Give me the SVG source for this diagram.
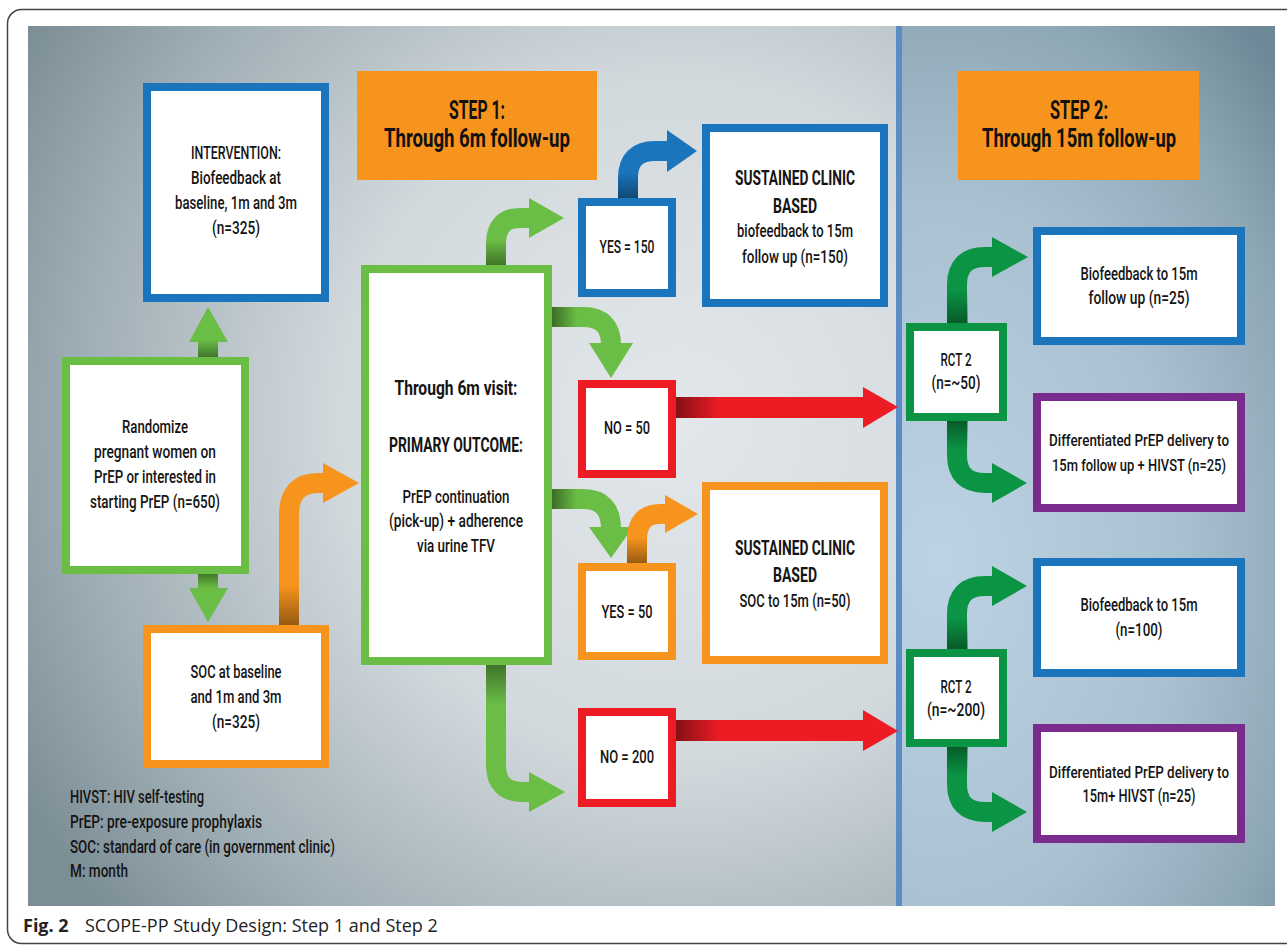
<svg xmlns="http://www.w3.org/2000/svg" width="1287" height="945" viewBox="0 0 1287 945">
<style>
.t{font-family:Roboto,"Liberation Sans",Arial,sans-serif;font-weight:500;font-size:18px;fill:#141414;text-anchor:middle}
.sm{font-size:16px}
.b{font-weight:bold;font-size:21px}
.s{font-weight:bold;font-size:25px;fill:#111}
.lg{font-family:Roboto,"Liberation Sans",Arial,sans-serif;font-weight:500;font-size:18px;fill:#141414}
.cap{font-family:"Open Sans","Noto Sans",sans-serif;font-size:18px;fill:#222}
.box{fill:#fff;stroke-width:8}
.blue{stroke:#1b75bc}.lgreen{stroke:#6abd45}.orange{stroke:#f7941d}.red{stroke:#ed1c24}.dgreen{stroke:#0b9444}.purple{stroke:#7b2b8e}
.step{fill:#f7941d}
.arr{fill:none;stroke-width:20}
</style>
<defs>
<radialGradient id="bgL" gradientUnits="userSpaceOnUse" cx="680" cy="420" r="760">
<stop offset="0" stop-color="#e3e7eb"/><stop offset="0.45" stop-color="#d2d9dd"/><stop offset="0.8" stop-color="#9eadb4"/><stop offset="1" stop-color="#7b8d95"/>
</radialGradient>
<radialGradient id="bgR" gradientUnits="userSpaceOnUse" cx="940" cy="560" r="470" gradientTransform="translate(940 560) scale(1 1.5) translate(-940 -560)">
<stop offset="0" stop-color="#bdd3e5"/><stop offset="0.5" stop-color="#aac1d1"/><stop offset="0.8" stop-color="#8ea7b5"/><stop offset="1" stop-color="#6d8896"/>
</radialGradient>
<linearGradient id="shUp" x1="0" y1="1" x2="0" y2="0"><stop offset="0" stop-color="#000" stop-opacity="0.4"/><stop offset="1" stop-color="#000" stop-opacity="0"/></linearGradient>
<linearGradient id="shDown" x1="0" y1="0" x2="0" y2="1"><stop offset="0" stop-color="#000" stop-opacity="0.4"/><stop offset="1" stop-color="#000" stop-opacity="0"/></linearGradient>
<linearGradient id="shRight" x1="0" y1="0" x2="1" y2="0"><stop offset="0" stop-color="#000" stop-opacity="0.45"/><stop offset="1" stop-color="#000" stop-opacity="0"/></linearGradient>
</defs>

<rect x="7.5" y="9.5" width="1300" height="934" rx="14" fill="#fff" stroke="#444" stroke-width="1.5"/>
<rect x="28" y="26" width="870" height="880" fill="url(#bgL)"/>
<rect x="898" y="26" width="377" height="880" fill="url(#bgR)"/>
<rect x="896" y="26" width="6" height="880" fill="#5d8cc4"/>

<g id="connectors">
<rect x="198" y="340" width="20" height="18" fill="#6abd45"/>
<polygon points="189,342 208,307 228,342" fill="#6abd45"/>
<rect x="198" y="340" width="20" height="18" fill="url(#shUp)"/>
<rect x="198" y="573" width="20" height="17" fill="#6abd45"/>
<polygon points="189,588 208,622 228,588" fill="#6abd45"/>
<rect x="198" y="573" width="20" height="15" fill="url(#shDown)"/>
<path class="arr" stroke="#f7941d" d="M289,626 V515 Q289,483 318,483 H325"/>
<polygon points="323,463 359,483 323,503" fill="#f7941d"/>
<rect x="279" y="585" width="20" height="41" fill="url(#shUp)"/>
<path class="arr" stroke="#6abd45" d="M496,266 V244 Q496,218 520,218 H531"/>
<polygon points="529,198 564,218 529,238" fill="#6abd45"/>
<rect x="486" y="240" width="20" height="26" fill="url(#shUp)"/>
<path class="arr" stroke="#1b75bc" d="M628,199 V178 Q628,151 655,151 H669"/>
<polygon points="667,130 697,151 667,172" fill="#1b75bc"/>
<rect x="618" y="172" width="20" height="27" fill="url(#shUp)"/>
<path class="arr" stroke="#6abd45" d="M551,317 H583 Q611,317 611,345"/>
<polygon points="589,343 611,378 633,343" fill="#6abd45"/>
<rect x="551" y="307" width="26" height="20" fill="url(#shRight)"/>
<path class="arr" stroke="#6abd45" d="M551,499 H583 Q611,499 611,529"/>
<polygon points="589,527 611,558 633,527" fill="#6abd45"/>
<rect x="551" y="489" width="26" height="20" fill="url(#shRight)"/>
<path class="arr" stroke="#f7941d" d="M637,564 V540 Q637,514 660,514 H667"/>
<polygon points="665,495 698,514 665,533" fill="#f7941d"/>
<rect x="627" y="538" width="20" height="26" fill="url(#shUp)"/>
<path class="arr" stroke="#6abd45" d="M496,664 V765 Q496,792 523,792 H531"/>
<polygon points="529,772 565,792 529,812" fill="#6abd45"/>
<rect x="486" y="664" width="20" height="40" fill="url(#shDown)"/>
<rect x="675" y="397" width="190" height="21" fill="#ed1c24"/>
<polygon points="863,387 898,407 863,428" fill="#ed1c24"/>
<rect x="675" y="397" width="45" height="21" fill="url(#shRight)"/>
<rect x="675" y="720" width="190" height="21" fill="#ed1c24"/>
<polygon points="863,710 898,731 863,751" fill="#ed1c24"/>
<rect x="675" y="720" width="45" height="21" fill="url(#shRight)"/>
<path class="arr" stroke="#0b9444" stroke-width="21" d="M957,324 V285 Q957,257 985,257 H994"/>
<polygon points="992,237 1028,257 992,277" fill="#0b9444"/>
<rect x="947" y="290" width="21" height="34" fill="url(#shUp)"/>
<path class="arr" stroke="#0b9444" stroke-width="21" d="M957,420 V455 Q957,483 985,483 H994"/>
<polygon points="992,463 1027,483 992,503" fill="#0b9444"/>
<rect x="947" y="420" width="21" height="30" fill="url(#shDown)"/>
<path class="arr" stroke="#0b9444" stroke-width="21" d="M957,650 V614 Q957,586 985,586 H994"/>
<polygon points="992,566 1027,586 992,606" fill="#0b9444"/>
<rect x="947" y="618" width="21" height="32" fill="url(#shUp)"/>
<path class="arr" stroke="#0b9444" stroke-width="21" d="M957,746 V784 Q957,812 985,812 H994"/>
<polygon points="992,792 1027,812 992,832" fill="#0b9444"/>
<rect x="947" y="746" width="21" height="30" fill="url(#shDown)"/>
</g>

<g id="intervention">
<rect class="box blue" x="147" y="87" width="178" height="211"/>
<text class="t" x="236" y="159" textLength="90" lengthAdjust="spacingAndGlyphs">INTERVENTION:</text>
<text class="t" x="236" y="184" textLength="90" lengthAdjust="spacingAndGlyphs">Biofeedback at</text>
<text class="t" x="236" y="209" textLength="122" lengthAdjust="spacingAndGlyphs">baseline, 1m and 3m</text>
<text class="t" x="236" y="234" textLength="48" lengthAdjust="spacingAndGlyphs">(n=325)</text>
</g>

<g id="step1">
<rect class="step" x="357" y="71" width="240" height="109"/>
<text class="t s" x="477" y="119" textLength="56" lengthAdjust="spacingAndGlyphs">STEP 1:</text>
<text class="t s" x="477" y="147" textLength="186" lengthAdjust="spacingAndGlyphs">Through 6m follow-up</text>
</g>

<g id="step2">
<rect class="step" x="958" y="71" width="241" height="109"/>
<text class="t s" x="1079" y="119" textLength="58" lengthAdjust="spacingAndGlyphs">STEP 2:</text>
<text class="t s" x="1079" y="147" textLength="194" lengthAdjust="spacingAndGlyphs">Through 15m follow-up</text>
</g>

<g id="randomize">
<rect class="box lgreen" x="66" y="361" width="179" height="209"/>
<text class="t" x="155" y="433" textLength="66" lengthAdjust="spacingAndGlyphs">Randomize</text>
<text class="t" x="155" y="458" textLength="122" lengthAdjust="spacingAndGlyphs">pregnant women on</text>
<text class="t" x="155" y="483" textLength="122" lengthAdjust="spacingAndGlyphs">PrEP or interested in</text>
<text class="t" x="155" y="508" textLength="130" lengthAdjust="spacingAndGlyphs">starting PrEP (n=650)</text>
</g>

<g id="soc">
<rect class="box orange" x="147" y="629" width="178" height="135"/>
<text class="t" x="236" y="678" textLength="91" lengthAdjust="spacingAndGlyphs">SOC at baseline</text>
<text class="t" x="236" y="703" textLength="91" lengthAdjust="spacingAndGlyphs">and 1m and 3m</text>
<text class="t" x="236" y="728" textLength="48" lengthAdjust="spacingAndGlyphs">(n=325)</text>
</g>

<g id="through6m">
<rect class="box lgreen" x="365" y="269" width="183" height="392"/>
<text class="t b" x="456" y="395" textLength="123" lengthAdjust="spacingAndGlyphs">Through 6m visit:</text>
<text class="t b" x="456" y="452" textLength="134" lengthAdjust="spacingAndGlyphs">PRIMARY OUTCOME:</text>
<text class="t" x="456" y="503" textLength="107" lengthAdjust="spacingAndGlyphs">PrEP continuation</text>
<text class="t" x="456" y="527" textLength="134" lengthAdjust="spacingAndGlyphs">(pick-up) + adherence</text>
<text class="t" x="456" y="552" textLength="78" lengthAdjust="spacingAndGlyphs">via urine TFV</text>
</g>

<g id="yes150">
<rect class="box blue" x="582" y="202" width="90" height="91"/>
<text class="t" x="627" y="253" textLength="55" lengthAdjust="spacingAndGlyphs">YES = 150</text>
</g>

<g id="no50">
<rect class="box red" x="582" y="384" width="90" height="90"/>
<text class="t" x="627" y="434" textLength="46" lengthAdjust="spacingAndGlyphs">NO = 50</text>
</g>

<g id="yes50">
<rect class="box orange" x="582" y="567" width="90" height="89"/>
<text class="t" x="627" y="618" textLength="51" lengthAdjust="spacingAndGlyphs">YES = 50</text>
</g>

<g id="no200">
<rect class="box red" x="582" y="712" width="90" height="91"/>
<text class="t" x="627" y="763" textLength="54" lengthAdjust="spacingAndGlyphs">NO = 200</text>
</g>

<g id="sustained-biofeedback">
<rect class="box blue" x="706" y="128" width="178" height="175"/>
<text class="t b" x="795" y="185" textLength="120" lengthAdjust="spacingAndGlyphs">SUSTAINED CLINIC</text>
<text class="t b" x="795" y="213" textLength="44" lengthAdjust="spacingAndGlyphs">BASED</text>
<text class="t" x="795" y="237" textLength="116" lengthAdjust="spacingAndGlyphs">biofeedback to 15m</text>
<text class="t" x="795" y="263" textLength="106" lengthAdjust="spacingAndGlyphs">follow up (n=150)</text>
</g>

<g id="sustained-soc">
<rect class="box orange" x="706" y="486" width="178" height="174"/>
<text class="t b" x="795" y="555" textLength="120" lengthAdjust="spacingAndGlyphs">SUSTAINED CLINIC</text>
<text class="t b" x="795" y="582" textLength="44" lengthAdjust="spacingAndGlyphs">BASED</text>
<text class="t" x="795" y="607" textLength="111" lengthAdjust="spacingAndGlyphs">SOC to 15m (n=50)</text>
</g>

<g id="rct2-50">
<rect class="box dgreen" x="910" y="327" width="93" height="90"/>
<text class="t" x="956" y="366" textLength="31" lengthAdjust="spacingAndGlyphs">RCT 2</text>
<text class="t" x="956" y="389" textLength="49" lengthAdjust="spacingAndGlyphs">(n=~50)</text>
</g>

<g id="rct2-200">
<rect class="box dgreen" x="910" y="653" width="93" height="90"/>
<text class="t" x="956" y="693" textLength="31" lengthAdjust="spacingAndGlyphs">RCT 2</text>
<text class="t" x="956" y="716" textLength="58" lengthAdjust="spacingAndGlyphs">(n=~200)</text>
</g>

<g id="biofeedback-25">
<rect class="box blue" x="1037" y="231" width="204" height="110"/>
<text class="t" x="1139" y="280" textLength="117" lengthAdjust="spacingAndGlyphs">Biofeedback to 15m</text>
<text class="t" x="1139" y="304" textLength="101" lengthAdjust="spacingAndGlyphs">follow up (n=25)</text>
</g>

<g id="differentiated-25a">
<rect class="box purple" x="1037" y="397" width="204" height="111"/>
<text class="t sm" x="1139" y="446" textLength="180" lengthAdjust="spacingAndGlyphs">Differentiated PrEP delivery to</text>
<text class="t sm" x="1139" y="471" textLength="174" lengthAdjust="spacingAndGlyphs">15m follow up + HIVST (n=25)</text>
</g>

<g id="biofeedback-100">
<rect class="box blue" x="1037" y="562" width="204" height="111"/>
<text class="t" x="1139" y="611" textLength="117" lengthAdjust="spacingAndGlyphs">Biofeedback to 15m</text>
<text class="t" x="1139" y="636" textLength="47" lengthAdjust="spacingAndGlyphs">(n=100)</text>
</g>

<g id="differentiated-25b">
<rect class="box purple" x="1037" y="728" width="204" height="111"/>
<text class="t sm" x="1139" y="778" textLength="180" lengthAdjust="spacingAndGlyphs">Differentiated PrEP delivery to</text>
<text class="t" x="1139" y="802" textLength="113" lengthAdjust="spacingAndGlyphs">15m+ HIVST (n=25)</text>
</g>

<g id="legend">
<text class="lg" x="70" y="803" textLength="134" lengthAdjust="spacingAndGlyphs">HIVST: HIV self-testing</text>
<text class="lg" x="70" y="828" textLength="192" lengthAdjust="spacingAndGlyphs">PrEP: pre-exposure prophylaxis</text>
<text class="lg" x="70" y="853" textLength="265" lengthAdjust="spacingAndGlyphs">SOC: standard of care (in government clinic)</text>
<text class="lg" x="70" y="877" textLength="58" lengthAdjust="spacingAndGlyphs">M: month</text>
</g>

<g id="caption">
<text class="cap" x="23" y="932"><tspan font-weight="bold">Fig. 2</tspan><tspan x="85">SCOPE-PP Study Design: Step 1 and Step 2</tspan></text>
</g>
</svg>
